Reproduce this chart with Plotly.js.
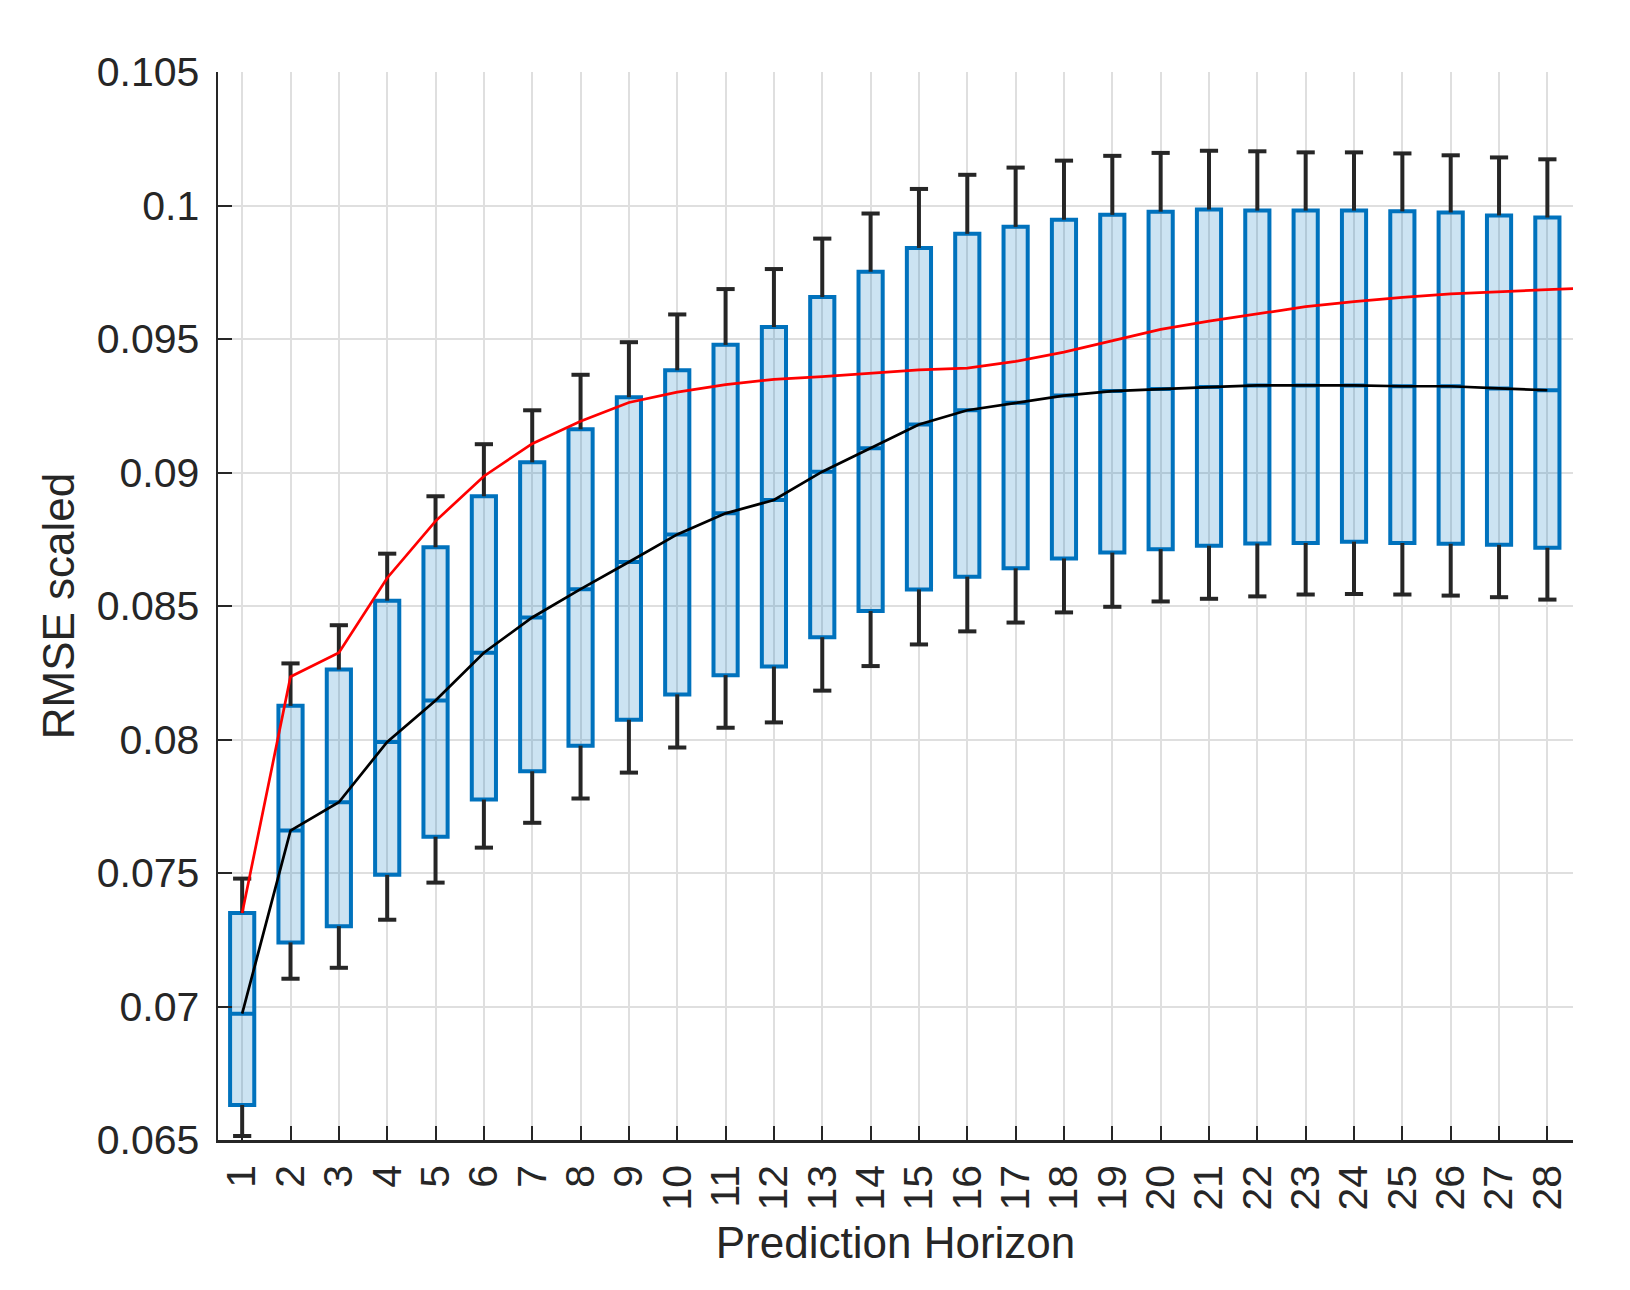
<!DOCTYPE html>
<html>
<head>
<meta charset="utf-8">
<script src="https://cdn.plot.ly/plotly-3.0.1.min.js"></script>
<style>
  html, body { margin: 0; padding: 0; background: #ffffff; }
  #chart { width: 1630px; height: 1290px; }
</style>
</head>
<body>
<div id="chart"></div>
<script>
// ---- Data ----
var horizons = [1, 2, 3, 4, 5, 6, 7, 8, 9, 10, 11, 12, 13, 14, 15, 16, 17, 18, 19, 20, 21, 22, 23, 24, 25, 26, 27, 28];
var horizonLabels = ["1", "2", "3", "4", "5", "6", "7", "8", "9", "10", "11", "12", "13", "14", "15", "16", "17", "18", "19", "20", "21", "22", "23", "24", "25", "26", "27", "28"];

var whiskerLow = [0.06515, 0.07104, 0.07145, 0.07325, 0.07464, 0.07595, 0.07688, 0.07779, 0.07876, 0.07970, 0.08044, 0.08064, 0.08183, 0.08275, 0.08356, 0.08405, 0.08438, 0.08476, 0.08497, 0.08517, 0.08527, 0.08536, 0.08543, 0.08545, 0.08543, 0.08539, 0.08533, 0.08524];
var q1Values = [0.06631, 0.07240, 0.07301, 0.07493, 0.07636, 0.07775, 0.07881, 0.07977, 0.08074, 0.08169, 0.08241, 0.08273, 0.08383, 0.08481, 0.08562, 0.08610, 0.08641, 0.08678, 0.08700, 0.08713, 0.08726, 0.08734, 0.08736, 0.08741, 0.08736, 0.08733, 0.08729, 0.08718];
var medianValues = [0.06973, 0.07659, 0.07765, 0.07991, 0.08146, 0.08325, 0.08457, 0.08563, 0.08665, 0.08768, 0.08847, 0.08897, 0.09003, 0.09091, 0.09180, 0.09233, 0.09261, 0.09288, 0.09305, 0.09313, 0.09320, 0.09326, 0.09326, 0.09326, 0.09323, 0.09323, 0.09315, 0.09308];
var q3Values = [0.07350, 0.08126, 0.08262, 0.08520, 0.08720, 0.08911, 0.09038, 0.09162, 0.09282, 0.09383, 0.09478, 0.09545, 0.09657, 0.09752, 0.09841, 0.09894, 0.09920, 0.09947, 0.09965, 0.09977, 0.09985, 0.09981, 0.09981, 0.09981, 0.09978, 0.09974, 0.09963, 0.09955];
var whiskerHigh = [0.07479, 0.08285, 0.08428, 0.08696, 0.08911, 0.09106, 0.09233, 0.09366, 0.09488, 0.09592, 0.09687, 0.09762, 0.09876, 0.09970, 0.10062, 0.10115, 0.10142, 0.10168, 0.10186, 0.10197, 0.10205, 0.10203, 0.10199, 0.10199, 0.10195, 0.10188, 0.10180, 0.10173];

// red curve (continues past the last box to the right edge)
var meanHorizons = [1, 2, 3, 4, 5, 6, 7, 8, 9, 10, 11, 12, 13, 14, 15, 16, 17, 18, 19, 20, 21, 22, 23, 24, 25, 26, 27, 28, 29];
var meanValues = [0.07350, 0.08235, 0.08325, 0.08605, 0.08818, 0.08986, 0.09108, 0.09192, 0.09262, 0.09301, 0.09329, 0.09349, 0.09359, 0.09371, 0.09384, 0.09391, 0.09416, 0.09451, 0.09493, 0.09536, 0.09567, 0.09593, 0.09621, 0.09640, 0.09656, 0.09669, 0.09678, 0.09685, 0.09692];

var yTickValues = [0.065, 0.07, 0.075, 0.08, 0.085, 0.09, 0.095, 0.1, 0.105];
var yTickLabels = ["0.065", "0.07", "0.075", "0.08", "0.085", "0.09", "0.095", "0.1", "0.105"];

// ---- Styles ----
var FONT = "'Liberation Sans', Arial, Helvetica, sans-serif";
var INK = "#262626";
var BLUE = "#0072BD";

// whisker segments built from the data arrays
var wx = [], wy = [];
for (var i = 0; i < horizons.length; i++) {
  wx.push(horizons[i], horizons[i], null, horizons[i], horizons[i], null);
  wy.push(q3Values[i], whiskerHigh[i], null, q1Values[i], whiskerLow[i], null);
}
var capX = horizons.concat(horizons);
var capY = whiskerHigh.concat(whiskerLow);

var traces = [
  {
    type: "box",
    x: horizons,
    q1: q1Values,
    median: medianValues,
    q3: q3Values,
    lowerfence: q1Values,
    upperfence: q3Values,
    boxpoints: false,
    width: 0.5,
    whiskerwidth: 0,
    fillcolor: "rgba(0,114,189,0.2)",
    line: { color: BLUE, width: 4 },
    hoverinfo: "skip"
  },
  {
    type: "scatter",
    mode: "lines",
    x: wx,
    y: wy,
    connectgaps: false,
    line: { color: INK, width: 4 },
    hoverinfo: "skip"
  },
  {
    type: "scatter",
    mode: "markers",
    x: capX,
    y: capY,
    marker: { symbol: "line-ew", size: 13, color: INK, line: { color: INK, width: 4 } },
    cliponaxis: false,
    hoverinfo: "skip"
  },
  {
    type: "scatter",
    mode: "lines",
    x: horizons,
    y: medianValues,
    line: { color: "#000000", width: 2.7 },
    hoverinfo: "skip"
  },
  {
    type: "scatter",
    mode: "lines",
    x: meanHorizons,
    y: meanValues,
    line: { color: "#ff0000", width: 2.7 },
    hoverinfo: "skip"
  }
];

var layout = {
  width: 1630,
  height: 1290,
  margin: { l: 218, r: 57, t: 72, b: 150, pad: 0 },
  paper_bgcolor: "#ffffff",
  plot_bgcolor: "#ffffff",
  showlegend: false,
  font: { family: FONT, color: INK, size: 41 },
  xaxis: {
    type: "linear",
    range: [0.5, 28.53],
    tickmode: "array",
    tickvals: horizons,
    ticktext: horizonLabels,
    tickangle: -90,
    ticks: "inside",
    ticklen: 14,
    tickwidth: 2,
    tickcolor: INK,
    ticklabelstandoff: 6,
    showline: true,
    linecolor: INK,
    linewidth: 2.5,
    showgrid: true,
    gridcolor: "#dfdfdf",
    gridwidth: 2,
    zeroline: false,
    automargin: false,
    tickfont: { family: FONT, size: 41, color: INK },
    title: { text: "Prediction Horizon", font: { family: FONT, size: 44, color: INK }, standoff: 18 }
  },
  yaxis: {
    type: "linear",
    range: [0.065, 0.105],
    tickmode: "array",
    tickvals: yTickValues,
    ticktext: yTickLabels,
    ticks: "inside",
    ticklen: 14,
    tickwidth: 2,
    tickcolor: INK,
    ticklabelstandoff: 8,
    showline: true,
    linecolor: INK,
    linewidth: 2.5,
    showgrid: true,
    gridcolor: "#dfdfdf",
    gridwidth: 2,
    zeroline: false,
    automargin: false,
    tickfont: { family: FONT, size: 41, color: INK },
    title: { text: "RMSE scaled", font: { family: FONT, size: 44, color: INK }, standoff: 9 }
  }
};

Plotly.newPlot("chart", traces, layout, { staticPlot: true, displayModeBar: false });
</script>
</body>
</html>
